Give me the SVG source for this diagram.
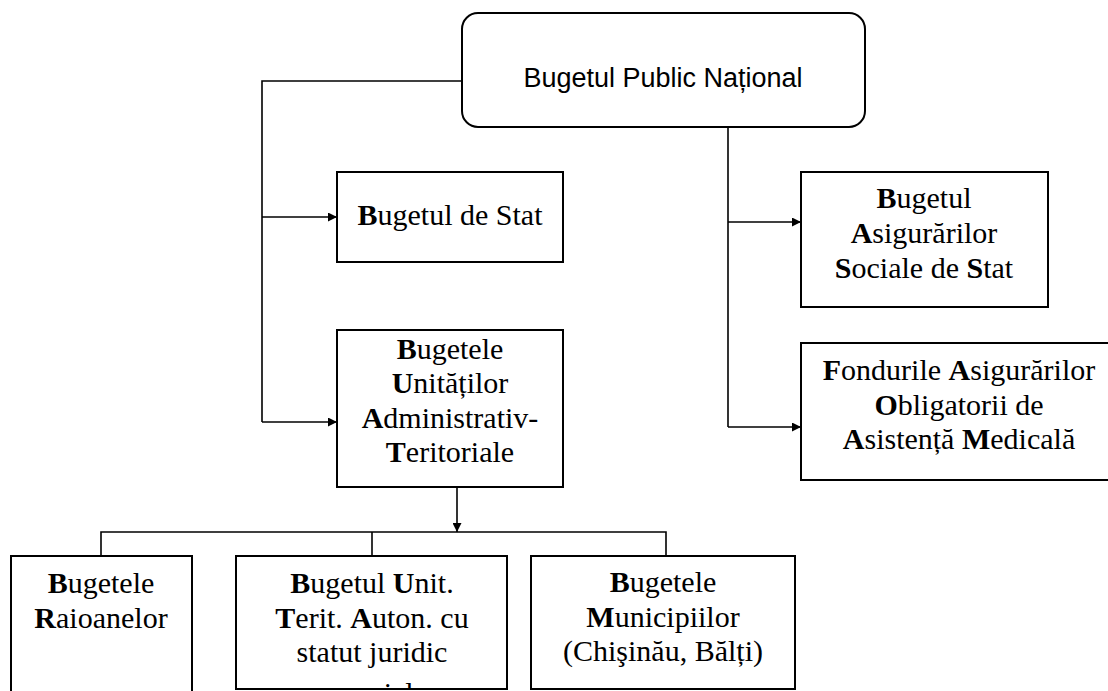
<svg xmlns="http://www.w3.org/2000/svg" width="1108" height="691" viewBox="0 0 1108 691">
  <style>
    .box { fill: #fff; stroke: #000; stroke-width: 2; }
    .wire { fill: none; stroke: #000; stroke-width: 1.6; }
    .lbl { font-family: "Liberation Serif", "Times New Roman", serif; font-size: 30px; fill: #000; text-anchor: middle; }
    .lbl tspan.b { font-weight: bold; }
    .head { font-family: "Liberation Sans", Arial, sans-serif; font-size: 27px; fill: #000; text-anchor: middle; }
  </style>
  <defs>
    <marker id="arrow" viewBox="0 0 10 10" refX="10" refY="5" markerWidth="9" markerHeight="9" markerUnits="userSpaceOnUse" orient="auto">
      <path d="M0,0 L10,5 L0,10 Z" fill="#000"/>
    </marker>
    <clipPath id="clip-utag">
      <rect x="237" y="557" width="269" height="131"/>
    </clipPath>
  </defs>
  <rect width="1108" height="691" fill="#fff"/>

  <!-- connectors -->
  <g id="connectors">
    <polyline class="wire" points="462,81 262,81 262,422"/>
    <line class="wire" x1="262" y1="217" x2="337" y2="217" marker-end="url(#arrow)"/>
    <line class="wire" x1="262" y1="422" x2="337" y2="422" marker-end="url(#arrow)"/>
    <line class="wire" x1="728" y1="127" x2="728" y2="427"/>
    <line class="wire" x1="728" y1="222" x2="801" y2="222" marker-end="url(#arrow)"/>
    <line class="wire" x1="728" y1="427" x2="801" y2="427" marker-end="url(#arrow)"/>
    <line class="wire" x1="457" y1="487" x2="457" y2="532" marker-end="url(#arrow)"/>
    <polyline class="wire" points="101,556 101,532 666,532 666,556"/>
    <line class="wire" x1="372" y1="532" x2="372" y2="556"/>
  </g>

  <!-- root -->
  <g id="node-bpn">
    <rect class="box" x="462" y="13" width="403" height="114" rx="16"/>
    <text class="head" x="663" y="87">Bugetul Public Național</text>
  </g>

  <g id="node-bs">
    <rect class="box" x="337" y="172" width="226" height="90"/>
    <text class="lbl" x="450" y="225"><tspan class="b">B</tspan>ugetul de Stat</text>
  </g>

  <g id="node-buat">
    <rect class="box" x="337" y="330" width="226" height="157"/>
    <text class="lbl" x="450" y="359"><tspan class="b">B</tspan>ugetele</text>
    <text class="lbl" x="450" y="393"><tspan class="b">U</tspan>nităților</text>
    <text class="lbl" x="450" y="428"><tspan class="b">A</tspan>dministrativ-</text>
    <text class="lbl" x="450" y="462"><tspan class="b">T</tspan>eritoriale</text>
  </g>

  <g id="node-bass">
    <rect class="box" x="801" y="172" width="247" height="135"/>
    <text class="lbl" x="924" y="208"><tspan class="b">B</tspan>ugetul</text>
    <text class="lbl" x="924" y="243"><tspan class="b">A</tspan>sigurărilor</text>
    <text class="lbl" x="924" y="278"><tspan class="b">S</tspan>ociale de <tspan class="b">S</tspan>tat</text>
  </g>

  <g id="node-faoam">
    <rect class="box" x="801" y="343" width="320" height="137"/>
    <text class="lbl" x="959" y="380"><tspan class="b">F</tspan>ondurile <tspan class="b">A</tspan>sigurărilor</text>
    <text class="lbl" x="959" y="415"><tspan class="b">O</tspan>bligatorii de</text>
    <text class="lbl" x="959" y="449"><tspan class="b">A</tspan>sistență <tspan class="b">M</tspan>edicală</text>
  </g>

  <g id="node-br">
    <rect class="box" x="11" y="556" width="181" height="150"/>
    <text class="lbl" x="101" y="593"><tspan class="b">B</tspan>ugetele</text>
    <text class="lbl" x="101" y="628"><tspan class="b">R</tspan>aioanelor</text>
  </g>

  <g id="node-butag">
    <rect class="box" x="236" y="556" width="271" height="133"/>
    <!-- the last line overflows the box and is clipped at its lower edge -->
    <g clip-path="url(#clip-utag)">
      <text class="lbl" x="372" y="593"><tspan class="b">B</tspan>ugetul <tspan class="b">U</tspan>nit.</text>
      <text class="lbl" x="372" y="628"><tspan class="b">T</tspan>erit. <tspan class="b">A</tspan>uton. cu</text>
      <text class="lbl" x="372" y="662">statut juridic</text>
      <text class="lbl" x="372" y="703">special</text>
    </g>
  </g>

  <g id="node-bm">
    <rect class="box" x="531" y="556" width="264" height="133"/>
    <text class="lbl" x="663" y="592"><tspan class="b">B</tspan>ugetele</text>
    <text class="lbl" x="663" y="627"><tspan class="b">M</tspan>unicipiilor</text>
    <text class="lbl" x="663" y="661">(Chişinău, Bălți)</text>
  </g>
</svg>
